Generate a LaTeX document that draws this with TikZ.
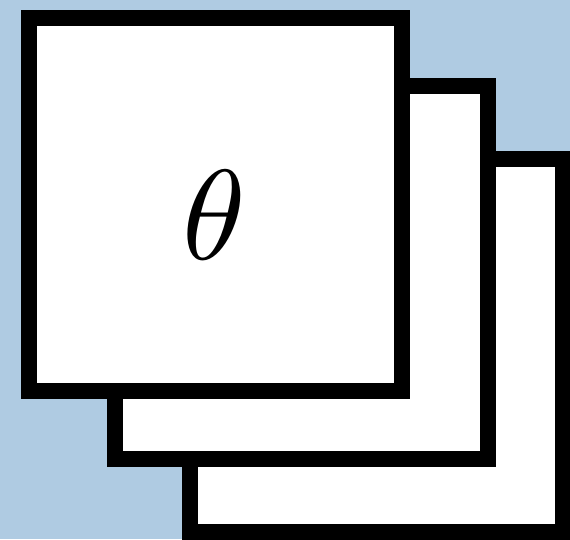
\documentclass[tikz,border=0pt]{standalone}
\usepackage{graphicx}
\definecolor{bgblue}{HTML}{AFCBE2}
\tikzset{
  card/.style={draw=black, fill=white, line width=16pt, minimum width=373pt, minimum height=373pt, inner sep=0pt, anchor=north west, outer sep=0pt},
}
\begin{document}
\begin{tikzpicture}[x=1pt,y=-1pt]
\useasboundingbox (0,0) rectangle (570,539);
\clip (0,0) rectangle (570,539);
\fill[bgblue] (0,0) rectangle (570,539);
\node[card] (back) at (190,159) {};
\node[card] (middle) at (115,86) {};
\node[card] (front) at (29,18) {};
\node[inner sep=0pt] (theta) at (214,215) {\scalebox{12.8}{$\theta$}};
\end{tikzpicture}
\end{document}
